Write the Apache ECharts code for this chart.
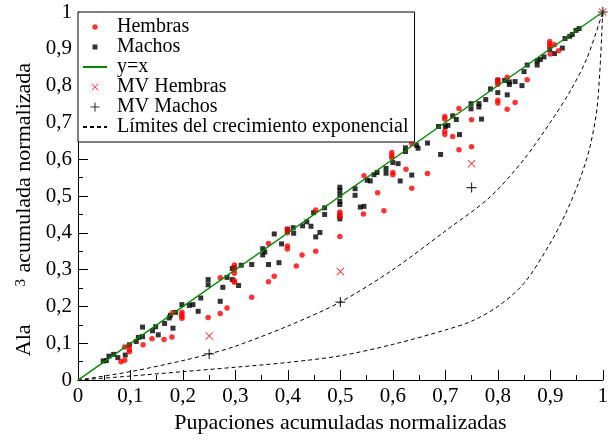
<!DOCTYPE html>
<html>
<head>
<meta charset="utf-8">
<script src="https://cdn.jsdelivr.net/npm/echarts@6/dist/echarts.min.js"></script>
<style>
  html, body { margin: 0; padding: 0; background: #fff; }
  #chart { width: 611px; height: 439px; }
</style>
</head>
<body>
<div id="chart"></div>
<script>
// Normalized cumulative pupations (x) vs normalized cumulative wing^3 (y)
const hembras = [
  [0.082,0.050],[0.089,0.054],[0.089,0.090],[0.097,0.094],[0.098,0.083],[0.098,0.077],
  [0.124,0.096],[0.141,0.112],[0.164,0.110],[0.179,0.117],[0.180,0.183],[0.198,0.184],
  [0.198,0.178],[0.198,0.173],[0.198,0.168],[0.248,0.170],[0.271,0.181],[0.271,0.278],
  [0.284,0.196],[0.298,0.313],[0.298,0.300],[0.298,0.290],[0.298,0.270],[0.298,0.266],
  [0.331,0.225],[0.363,0.267],[0.374,0.282],[0.363,0.371],[0.399,0.410],[0.399,0.400],
  [0.399,0.364],[0.399,0.356],[0.416,0.310],[0.427,0.340],[0.453,0.350],[0.453,0.462],
  [0.499,0.390],[0.499,0.457],[0.499,0.451],[0.499,0.444],[0.544,0.451],[0.545,0.555],
  [0.571,0.509],[0.583,0.460],[0.598,0.618],[0.598,0.611],[0.598,0.604],[0.600,0.564],
  [0.600,0.558],[0.625,0.573],[0.636,0.521],[0.636,0.643],[0.666,0.561],[0.699,0.716],
  [0.699,0.709],[0.699,0.676],[0.699,0.667],[0.714,0.662],[0.726,0.626],[0.726,0.738],
  [0.750,0.707],[0.750,0.634],[0.800,0.815],[0.800,0.809],[0.800,0.804],[0.800,0.760],
  [0.800,0.753],[0.818,0.823],[0.818,0.736],[0.833,0.754],[0.856,0.816],[0.899,0.920],
  [0.899,0.913],[0.899,0.907],[0.900,0.886],[0.908,0.911],[0.916,0.895]
];
const machos = [
  [0.048,0.052],[0.054,0.053],[0.059,0.065],[0.068,0.070],[0.076,0.061],[0.090,0.068],
  [0.098,0.096],[0.111,0.105],[0.115,0.116],[0.123,0.118],[0.123,0.144],[0.142,0.134],
  [0.148,0.145],[0.153,0.123],[0.165,0.154],[0.174,0.169],[0.176,0.176],[0.181,0.141],
  [0.186,0.184],[0.198,0.205],[0.212,0.203],[0.219,0.205],[0.229,0.187],[0.234,0.223],
  [0.271,0.214],[0.248,0.273],[0.248,0.259],[0.276,0.252],[0.284,0.279],[0.294,0.273],
  [0.294,0.303],[0.298,0.306],[0.306,0.257],[0.311,0.312],[0.331,0.314],[0.352,0.357],
  [0.352,0.340],[0.356,0.348],[0.363,0.314],[0.374,0.397],[0.383,0.319],[0.388,0.370],
  [0.399,0.410],[0.399,0.404],[0.410,0.414],[0.411,0.399],[0.428,0.419],[0.436,0.430],
  [0.444,0.418],[0.449,0.455],[0.453,0.389],[0.461,0.401],[0.470,0.468],[0.470,0.450],
  [0.499,0.524],[0.499,0.515],[0.499,0.502],[0.499,0.486],[0.499,0.477],[0.499,0.446],
  [0.499,0.438],[0.528,0.520],[0.528,0.502],[0.538,0.470],[0.545,0.472],[0.551,0.543],
  [0.557,0.541],[0.564,0.558],[0.570,0.564],[0.587,0.575],[0.587,0.562],[0.600,0.591],
  [0.610,0.588],[0.614,0.541],[0.624,0.631],[0.624,0.621],[0.636,0.557],[0.645,0.638],
  [0.648,0.630],[0.666,0.644],[0.691,0.613],[0.687,0.689],[0.700,0.689],[0.705,0.692],
  [0.714,0.718],[0.721,0.708],[0.727,0.667],[0.749,0.751],[0.749,0.737],[0.764,0.751],
  [0.764,0.742],[0.769,0.709],[0.777,0.762],[0.786,0.791],[0.800,0.781],[0.800,0.815],
  [0.813,0.814],[0.818,0.775],[0.822,0.810],[0.822,0.803],[0.833,0.811],[0.846,0.800],
  [0.850,0.838],[0.856,0.856],[0.875,0.867],[0.875,0.856],[0.881,0.871],[0.888,0.878],
  [0.899,0.898],[0.908,0.887],[0.923,0.902],[0.928,0.928],[0.937,0.934],[0.942,0.939],
  [0.949,0.950],[0.955,0.955]
];
const identidad = [[0, 0], [1, 1]];
const mvHembras = [[0.25, 0.120], [0.5, 0.295], [0.75, 0.588], [1, 1]];
const mvMachos  = [[0.25, 0.071], [0.5, 0.212], [0.75, 0.523], [1, 1]];
const limiteSuperior = [
  [0,0],[0.1,0.023],[0.2,0.053],[0.25,0.071],[0.3,0.092],[0.4,0.147],[0.5,0.212],
  [0.6,0.300],[0.7,0.405],[0.785,0.497],[0.85,0.600],[0.9,0.700],[0.94,0.790],
  [0.97,0.875],[1,1]
];
const limiteInferior = [
  [0,0],[0.1,0.011],[0.2,0.023],[0.3,0.035],[0.4,0.048],[0.5,0.066],[0.6,0.097],
  [0.7,0.136],[0.75,0.160],[0.8,0.200],[0.85,0.263],[0.9,0.372],[0.93,0.455],
  [0.955,0.540],[0.975,0.630],[0.99,0.750],[1,1]
];

const FONT = "'Liberation Serif', 'Times New Roman', serif";

// Marker shapes: thin diagonal cross and thin plus, as filled outlines
const CROSS = 'M0,0.85L0.85,0L5,4.15L9.15,0L10,0.85L5.85,5L10,9.15L9.15,10L5,5.85L0.85,10L0,9.15L4.15,5Z';
const PLUS = 'M4.4,0H5.6V4.4H10V5.6H5.6V10H4.4V5.6H0V4.4H4.4Z';
// Legend variants carry invisible corner points so the marker keeps a small size
const legendDot = 'path://M0,0M24,14M9.3,7a2.7,2.7 0 1,0 5.4,0a2.7,2.7 0 1,0 -5.4,0Z';
const legendSquare = 'path://M0,0M24,14M9.5,4.5H14.5V9.5H9.5Z';
const legendCross = 'path://M-12.14,-5M22.14,15' + CROSS;
const legendPlus = 'path://M-8.33,-2.78M18.33,12.78' + PLUS;

const fmt = v => {
  const r = Math.round(v * 10) / 10;
  if (r === 0) return '0';
  if (r === 1) return '1';
  return r.toFixed(1).replace('.', ',');
};

const axisCommon = {
  min: 0, max: 1, interval: 0.1,
  axisLine: { show: true, onZero: false, lineStyle: { color: '#000', width: 1 } },
  axisTick: { show: true, inside: true, length: 10, lineStyle: { color: '#000', width: 1 } },
  minorTick: { show: true, splitNumber: 2, length: 5, lineStyle: { color: '#000', width: 1 } },
  splitLine: { show: false },
  axisLabel: { fontFamily: FONT, fontSize: 21, color: '#000', margin: 6, formatter: fmt }
};

const chart = echarts.init(document.getElementById('chart'), null, { renderer: 'canvas' });
chart.setOption({
  animation: false,
  backgroundColor: '#fff',
  textStyle: { fontFamily: FONT, color: '#000' },
  grid: { left: 78, top: 12, width: 533, height: 374, containLabel: false },
  xAxis: [
    Object.assign({}, axisCommon, {
      type: 'value', position: 'bottom',
      name: 'Pupaciones acumuladas normalizadas', nameLocation: 'middle', nameGap: 28,
      nameTextStyle: { fontFamily: FONT, fontSize: 22, color: '#000' }
    }),
    { type: 'value', position: 'top', min: 0, max: 1,
      axisLine: { show: true, lineStyle: { color: '#000', width: 1 } },
      axisTick: { show: false }, axisLabel: { show: false }, splitLine: { show: false } }
  ],
  yAxis: [
    Object.assign({}, axisCommon, {
      type: 'value', position: 'left',
      name: 'Ala{s|3} acumulada normalizada', nameLocation: 'middle', nameGap: 36, nameRotate: 90,
      nameTextStyle: {
        fontFamily: FONT, fontSize: 22, color: '#000', padding: [0, 27, 0, 0],
        rich: { s: { fontFamily: FONT, fontSize: 15, color: '#000', padding: [0, 1, 5, 38] } }
      }
    }),
    { type: 'value', position: 'right', min: 0, max: 1,
      axisLine: { show: true, lineStyle: { color: '#000', width: 1 } },
      axisTick: { show: false }, axisLabel: { show: false }, splitLine: { show: false } }
  ],
  legend: {
    orient: 'vertical', left: 78, top: 12,
    padding: [5, 6, 5, 4],
    itemWidth: 24, itemHeight: 14, itemGap: 0,
    backgroundColor: '#fff', borderColor: '#000', borderWidth: 1, borderRadius: 0,
    selectedMode: false,
    textStyle: { fontFamily: FONT, fontSize: 20, color: '#000', lineHeight: 20, padding: [0, 0, 0, 5] },
    data: [
      { name: 'Hembras', icon: legendDot },
      { name: 'Machos', icon: legendSquare },
      { name: 'y=x', itemStyle: { opacity: 0 } },
      { name: 'MV Hembras', icon: legendCross },
      { name: 'MV Machos', icon: legendPlus },
      { name: 'Límites del crecimiento exponencial', itemStyle: { opacity: 0 } }
    ]
  },
  series: [
    { name: 'Límites del crecimiento exponencial', type: 'line', data: limiteSuperior,
      smooth: 0.3, symbol: 'none', silent: true,
      itemStyle: { color: '#000' },
      lineStyle: { color: '#000', width: 1, type: [4, 3] } },
    { name: 'Límites del crecimiento exponencial', type: 'line', data: limiteInferior,
      smooth: 0.3, symbol: 'none', silent: true,
      itemStyle: { color: '#000' },
      lineStyle: { color: '#000', width: 1, type: [4, 3] } },
    { name: 'Machos', type: 'scatter', data: machos, symbol: 'rect', symbolSize: 5,
      itemStyle: { color: '#000' } },
    { name: 'Hembras', type: 'scatter', data: hembras, symbol: 'circle', symbolSize: 5.5,
      itemStyle: { color: '#ff0000' } },
    { name: 'y=x', type: 'line', data: identidad, symbol: 'none', silent: true,
      itemStyle: { color: '#008800' },
      lineStyle: { color: '#008800', width: 1.3 } },
    { name: 'MV Hembras', type: 'scatter', data: mvHembras, symbol: 'path://' + CROSS,
      symbolSize: 8, itemStyle: { color: '#ff0000' } },
    { name: 'MV Machos', type: 'scatter', data: mvMachos, symbol: 'path://' + PLUS,
      symbolSize: 10, itemStyle: { color: '#000' } }
  ]
});
</script>
</body>
</html>
